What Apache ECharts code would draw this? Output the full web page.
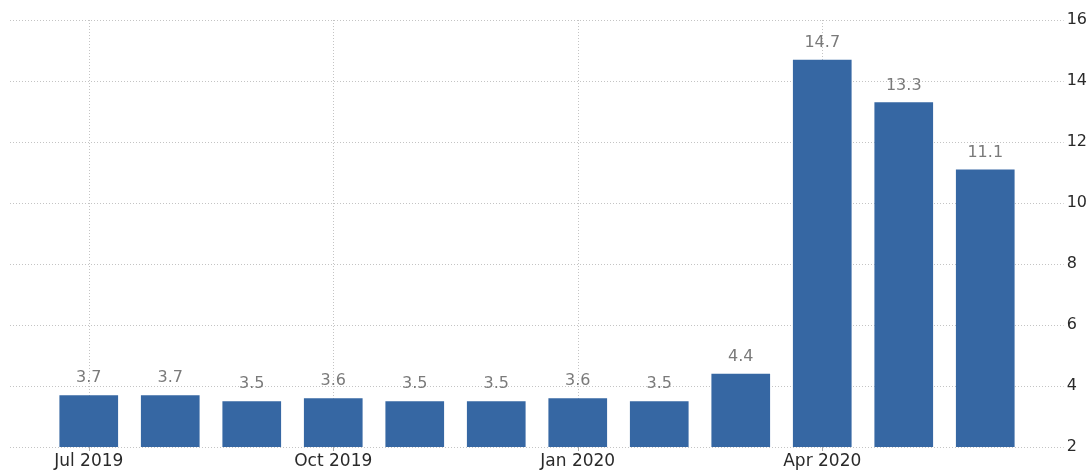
<!DOCTYPE html>
<html>
<head>
<meta charset="utf-8">
<script src="https://cdn.jsdelivr.net/npm/echarts@6/dist/echarts.min.js"></script>
<style>
html,body{margin:0;padding:0;background:#fff;}
#chart{width:1090px;height:472px;}
</style>
</head>
<body>
<div id="chart"></div>
<script>
const categories = ['Jul 2019','Aug 2019','Sep 2019','Oct 2019','Nov 2019','Dec 2019','Jan 2020','Feb 2020','Mar 2020','Apr 2020','May 2020','Jun 2020'];
const values = [3.7, 3.7, 3.5, 3.6, 3.5, 3.5, 3.6, 3.5, 4.4, 14.7, 13.3, 11.1];
const quarterLabels = ['Jul 2019','Oct 2019','Jan 2020','Apr 2020'];
const yMin = 2, yMax = 16, yStep = 2;

const FONT = '"DejaVu Sans",sans-serif';
const chart = echarts.init(document.getElementById('chart'), null, {renderer:'canvas'});
const showQuarter = (idx) => quarterLabels.indexOf(categories[idx]) >= 0;

chart.setOption({
  animation: false,
  backgroundColor: '#ffffff',
  grid: [
    {left: 10, right: 26, top: 20, bottom: 25},
    {left: 48, right: 64, top: 20, bottom: 25}
  ],
  xAxis: [
    {gridIndex: 0, type: 'value', min: 0, max: 1, show: false},
    {
      gridIndex: 1, type: 'category', data: categories,
      axisLine: {show: false},
      axisTick: {show: true, alignWithLabel: true, interval: (i) => showQuarter(i), length: 4, lineStyle: {color: '#aaaaaa'}},
      axisLabel: {interval: (i) => showQuarter(i), color: '#2a2a2a', fontFamily: FONT, fontSize: 17, margin: 6},
      splitLine: {show: false}
    }
  ],
  yAxis: [
    {
      gridIndex: 0, type: 'value', position: 'right', min: yMin, max: yMax, interval: yStep,
      axisLine: {show: false}, axisTick: {show: false},
      axisLabel: {color: '#2a2a2a', fontFamily: FONT, fontSize: 16, margin: 3},
      splitLine: {show: true, lineStyle: {color: '#c4c4c4', type: [1, 2], width: 1}}
    },
    {gridIndex: 1, type: 'value', min: yMin, max: yMax, interval: yStep, show: false, splitLine: {show: false}}
  ],
  series: [{
    type: 'bar', xAxisIndex: 1, yAxisIndex: 1, data: values,
    barWidth: '72%', z: 3,
    itemStyle: {color: '#3667a3'},
    label: {show: true, position: 'top', distance: 9, color: '#7a7a7a', fontFamily: FONT, fontSize: 16},
    markLine: {
      silent: true, z: 1, symbol: ['none','none'], label: {show: false},
      lineStyle: {color: '#c4c4c4', type: [1, 2], width: 1},
      data: quarterLabels.map(q => ({xAxis: q}))
    }
  }]
});
</script>
</body>
</html>
